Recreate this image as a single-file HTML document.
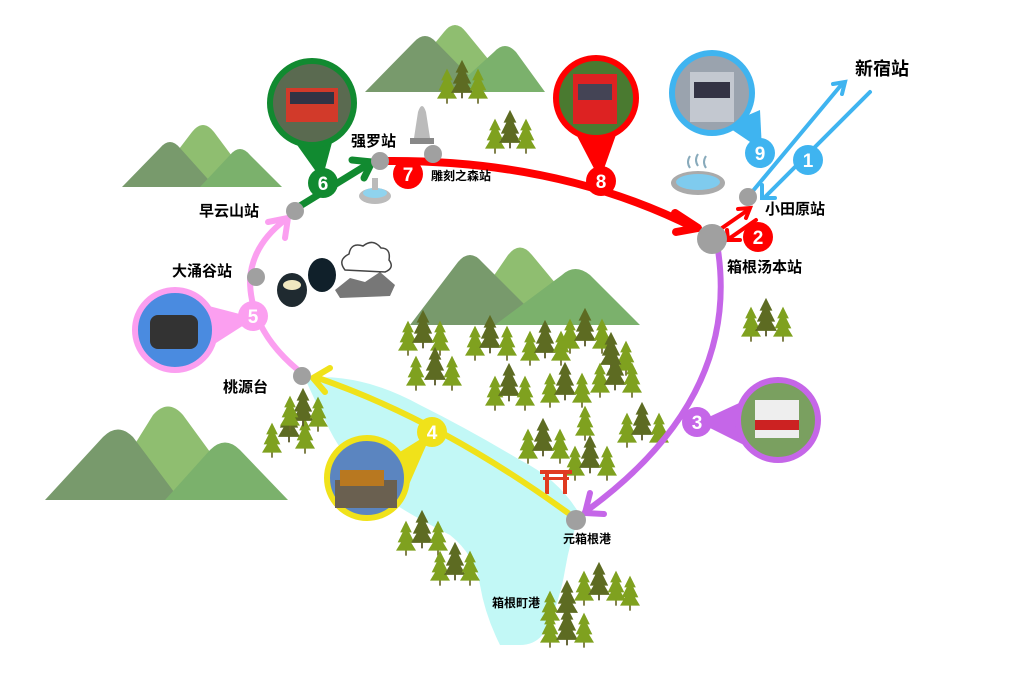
<!DOCTYPE html>
<html><head><meta charset="utf-8"><style>
html,body{margin:0;padding:0;background:#fff;}
svg{display:block;}
text{font-family:"Liberation Sans","Noto Sans CJK SC",sans-serif;font-weight:bold;}
</style></head><body>
<svg width="1024" height="683" viewBox="0 0 1024 683" xmlns="http://www.w3.org/2000/svg">
<defs>
<symbol id="tl" viewBox="0 0 24 44" overflow="visible">
<rect x="11" y="34" width="2" height="8" fill="#6b6b2a"/>
<polygon points="12,0 19,14 16,14 22,26 18,26 24,36 0,36 6,26 2,26 8,14 5,14" fill="#7fa11f"/>
</symbol>
<symbol id="td" viewBox="0 0 24 44" overflow="visible">
<rect x="11" y="34" width="2" height="8" fill="#5a5a2a"/>
<polygon points="12,0 19,14 16,14 22,26 18,26 24,36 0,36 6,26 2,26 8,14 5,14" fill="#5d6b22"/>
</symbol>
</defs>

<!-- mountains -->
<g>
<!-- top -->
<path d="M395,92 L444,32 Q455,18 466,32 L515,92 Z" fill="#8fbe70"/>
<path d="M365,92 L414,42 Q425,30 436,42 L485,92 Z" fill="#789a6c"/>
<path d="M450,92 L494,52 Q505,40 516,52 L545,92 Z" fill="#7bb16c"/>
<!-- left top -->
<path d="M150,187 L192,132 Q203,118 214,132 L255,187 Z" fill="#8fbe70"/>
<path d="M122,187 L160,148 Q170,136 180,148 L215,187 Z" fill="#789a6c"/>
<path d="M200,187 L230,155 Q240,143 250,155 L282,187 Z" fill="#7bb16c"/>
<!-- middle -->
<path d="M460,325 L508,255 Q520,240 532,255 L590,325 Z" fill="#8fbe70"/>
<path d="M410,325 L458,262 Q470,248 482,262 L545,325 Z" fill="#789a6c"/>
<path d="M495,325 L562,275 Q575,263 590,275 L640,325 Z" fill="#7bb16c"/>
<!-- bottom left -->
<path d="M100,500 L153,415 Q168,398 183,415 L245,500 Z" fill="#8fbe70"/>
<path d="M45,500 L103,437 Q118,422 133,437 L180,500 Z" fill="#789a6c"/>
<path d="M165,500 L210,450 Q225,435 240,450 L288,500 Z" fill="#7bb16c"/>
</g>

<!-- lake -->
<path d="M305,378 Q360,372 420,405 Q470,430 520,460 Q560,480 580,515 Q570,540 565,570 Q560,600 548,625 Q540,645 520,645 L500,645 Q485,615 480,585 Q475,555 450,535 Q400,510 375,490 Q340,455 325,420 Q312,395 305,378 Z" fill="#c2f8f6"/>

<!-- trees -->
<g>
<use href="#tl" x="437" y="68" width="20" height="38"/><use href="#td" x="451" y="58" width="22" height="44"/><use href="#tl" x="468" y="68" width="20" height="38"/>
<use href="#tl" x="485" y="118" width="20" height="38"/><use href="#td" x="499" y="108" width="22" height="44"/><use href="#tl" x="516" y="118" width="20" height="38"/>
<use href="#tl" x="741" y="306" width="20" height="38"/><use href="#td" x="755" y="296" width="22" height="44"/><use href="#tl" x="773" y="306" width="20" height="38"/>
<use href="#tl" x="398" y="320" width="20" height="38"/><use href="#td" x="412" y="308" width="22" height="44"/><use href="#tl" x="430" y="320" width="20" height="38"/>
<use href="#td" x="424" y="345" width="22" height="44"/><use href="#tl" x="406" y="355" width="20" height="38"/><use href="#tl" x="442" y="355" width="20" height="38"/>
<use href="#tl" x="465" y="325" width="20" height="38"/><use href="#td" x="479" y="313" width="22" height="44"/><use href="#tl" x="497" y="325" width="20" height="38"/>
<use href="#tl" x="485" y="375" width="20" height="38"/><use href="#td" x="498" y="361" width="22" height="44"/><use href="#tl" x="515" y="375" width="20" height="38"/>
<use href="#tl" x="520" y="330" width="20" height="38"/><use href="#td" x="534" y="318" width="22" height="44"/><use href="#tl" x="551" y="330" width="20" height="38"/>
<use href="#tl" x="560" y="318" width="20" height="38"/><use href="#td" x="574" y="306" width="22" height="44"/><use href="#tl" x="592" y="318" width="20" height="38"/>
<use href="#td" x="600" y="330" width="22" height="44"/><use href="#tl" x="616" y="340" width="20" height="38"/>
<use href="#tl" x="540" y="372" width="20" height="38"/><use href="#td" x="554" y="360" width="22" height="44"/><use href="#tl" x="572" y="372" width="20" height="38"/>
<use href="#tl" x="590" y="362" width="20" height="38"/><use href="#td" x="604" y="350" width="22" height="44"/><use href="#tl" x="622" y="362" width="20" height="38"/>
<use href="#tl" x="518" y="428" width="20" height="38"/><use href="#td" x="532" y="416" width="22" height="44"/><use href="#tl" x="550" y="428" width="20" height="38"/>
<use href="#tl" x="565" y="445" width="20" height="38"/><use href="#td" x="579" y="433" width="22" height="44"/><use href="#tl" x="597" y="445" width="20" height="38"/>
<use href="#tl" x="617" y="412" width="20" height="38"/><use href="#td" x="631" y="400" width="22" height="44"/><use href="#tl" x="649" y="412" width="20" height="38"/>
<use href="#tl" x="575" y="405" width="20" height="38"/>
<use href="#tl" x="262" y="422" width="20" height="38"/><use href="#td" x="278" y="402" width="22" height="44"/><use href="#tl" x="295" y="418" width="20" height="38"/>
<use href="#td" x="292" y="386" width="22" height="44"/><use href="#tl" x="308" y="396" width="20" height="38"/><use href="#tl" x="280" y="395" width="20" height="38"/>
<use href="#tl" x="396" y="520" width="20" height="38"/><use href="#td" x="411" y="508" width="22" height="44"/><use href="#tl" x="428" y="520" width="20" height="38"/>
<use href="#tl" x="430" y="550" width="20" height="38"/><use href="#td" x="444" y="540" width="22" height="44"/><use href="#tl" x="460" y="550" width="20" height="38"/>
<use href="#tl" x="540" y="590" width="20" height="38"/><use href="#td" x="556" y="578" width="22" height="44"/><use href="#tl" x="574" y="570" width="20" height="38"/>
<use href="#td" x="588" y="560" width="22" height="44"/><use href="#tl" x="606" y="570" width="20" height="38"/><use href="#tl" x="620" y="575" width="20" height="38"/>
<use href="#tl" x="540" y="612" width="20" height="38"/><use href="#td" x="556" y="605" width="22" height="44"/><use href="#tl" x="574" y="612" width="20" height="38"/>
</g>

<!-- torii -->
<g fill="#e03a20"><rect x="540" y="470" width="32" height="4"/><rect x="543" y="477" width="26" height="3"/><rect x="545" y="470" width="4" height="24"/><rect x="563" y="470" width="4" height="24"/></g>

<!-- onsen -->
<ellipse cx="698" cy="183" rx="27" ry="12" fill="#aaa"/><ellipse cx="698" cy="182" rx="22" ry="8" fill="#7fcbee"/>
<path d="M690,168 q-4,-6 0,-12 M698,166 q-4,-6 0,-12 M706,168 q-4,-6 0,-12" stroke="#8ab" stroke-width="2" fill="none"/>

<!-- statue & fountain -->
<rect x="410" y="138" width="24" height="6" fill="#888"/><path d="M414,138 L418,112 Q422,100 426,112 L430,138 Z" fill="#bbb"/>
<ellipse cx="375" cy="196" rx="16" ry="8" fill="#bbb"/><ellipse cx="375" cy="193" rx="12" ry="5" fill="#8fd3ee"/><rect x="372" y="178" width="6" height="12" fill="#bbb"/>

<!-- eggs & rocks -->
<ellipse cx="292" cy="290" rx="15" ry="17" fill="#1f2a30"/><ellipse cx="292" cy="285" rx="9" ry="5" fill="#f0e8c0"/>
<ellipse cx="322" cy="275" rx="14" ry="17" fill="#10202a"/>
<path d="M335,290 L350,278 L365,282 L380,272 L395,285 L390,296 L340,298 Z" fill="#777"/>
<path d="M345,270 q-8,-10 4,-16 q2,-12 14,-8 q10,-8 18,2 q10,0 8,12 q6,8 -4,12 Z" fill="#fff" stroke="#444" stroke-width="1.5"/>

<!-- routes -->
<g fill="none" stroke-linecap="round">
<path d="M752,192 L842,84" stroke="#3fb4f0" stroke-width="4"/>
<path d="M833,84 L845,82 L842,94" stroke="#3fb4f0" stroke-width="4"/>
<path d="M870,92 L766,196" stroke="#3fb4f0" stroke-width="4"/>
<path d="M762,185 L762,198 L775,198" stroke="#3fb4f0" stroke-width="4"/>
<path d="M722,228 L748,210" stroke="#f00" stroke-width="4"/>
<path d="M738,209 L750,208 L746,218" stroke="#f00" stroke-width="4"/>
<path d="M756,220 L730,238" stroke="#f00" stroke-width="4"/>
<path d="M727,230 L728,240 L740,240" stroke="#f00" stroke-width="4"/>
<path d="M388,161 Q560,160 695,228" stroke="#f00" stroke-width="8"/>
<path d="M675,213 L698,228 L676,232" stroke="#f00" stroke-width="8" stroke-linejoin="round"/>
<path d="M718,250 Q740,400 585,512" stroke="#c566e8" stroke-width="6"/>
<path d="M590,493 L585,513 L604,514" stroke="#c566e8" stroke-width="6" stroke-linejoin="round"/>
<path d="M568,513 Q440,420 318,378" stroke="#f0e21a" stroke-width="6"/>
<path d="M325,392 L313,378 L330,368" stroke="#f0e21a" stroke-width="6" stroke-linejoin="round"/>
<path d="M298,370 Q250,330 250,280 Q252,245 285,220" stroke="#fb9ff0" stroke-width="6"/>
<path d="M268,222 L288,218 L285,238" stroke="#fb9ff0" stroke-width="6" stroke-linejoin="round"/>
<path d="M300,206 L370,163" stroke="#118a30" stroke-width="7"/>
<path d="M352,160 L372,162 L364,178" stroke="#118a30" stroke-width="7" stroke-linejoin="round"/>
</g>

<!-- pins -->
<g>
<polygon points="290,135 334,135 322,180" fill="#118a30"/>
<circle cx="312" cy="103" r="42" fill="#5a6a50" stroke="#118a30" stroke-width="6"/>
<rect x="286" y="88" width="52" height="34" fill="#d23a2a"/><rect x="290" y="92" width="44" height="12" fill="#334"/>
<polygon points="575,132 617,132 600,180" fill="#f00"/>
<circle cx="596" cy="98" r="40" fill="#4a7a30" stroke="#f00" stroke-width="6"/>
<rect x="573" y="74" width="44" height="50" fill="#d22"/><rect x="578" y="84" width="34" height="16" fill="#445"/>
<polygon points="725,125 760,110 762,150" fill="#3fb4f0"/>
<circle cx="712" cy="93" r="40" fill="#9aa3ae" stroke="#3fb4f0" stroke-width="6"/>
<rect x="690" y="72" width="44" height="50" fill="#c3c8d0"/><rect x="694" y="82" width="36" height="16" fill="#334"/>
<polygon points="205,305 255,318 205,350" fill="#fb9ff0"/>
<circle cx="175" cy="330" r="40" fill="#4a8be0" stroke="#fb9ff0" stroke-width="6"/>
<rect x="150" y="315" width="48" height="34" rx="8" fill="#333"/>
<polygon points="395,455 432,432 400,505" fill="#f0e21a"/>
<circle cx="367" cy="478" r="40" fill="#5b85c0" stroke="#f0e21a" stroke-width="6"/>
<rect x="335" y="480" width="62" height="28" fill="#6a6050"/><rect x="340" y="470" width="44" height="16" fill="#b87820"/>
<polygon points="750,398 698,422 750,448" fill="#c566e8"/>
<circle cx="778" cy="420" r="40" fill="#7aa060" stroke="#c566e8" stroke-width="6"/>
<rect x="755" y="400" width="44" height="38" fill="#eee"/><rect x="755" y="420" width="44" height="10" fill="#c22"/>
</g>

<!-- number circles -->
<g fill="#fff" font-size="19" text-anchor="middle">
<circle cx="808" cy="160" r="15" fill="#3fb4f0"/><text x="808" y="167">1</text>
<circle cx="760" cy="153" r="15" fill="#3fb4f0"/><text x="760" y="160">9</text>
<circle cx="758" cy="237" r="15" fill="#f00"/><text x="758" y="244">2</text>
<circle cx="697" cy="422" r="15" fill="#c566e8"/><text x="697" y="429">3</text>
<circle cx="432" cy="432" r="15" fill="#f0e21a"/><text x="432" y="439">4</text>
<circle cx="253" cy="316" r="15" fill="#fb9ff0"/><text x="253" y="323">5</text>
<circle cx="323" cy="183" r="15" fill="#118a30"/><text x="323" y="190">6</text>
<circle cx="408" cy="174" r="15" fill="#f00"/><text x="408" y="181">7</text>
<circle cx="601" cy="181" r="15" fill="#f00"/><text x="601" y="188">8</text>
</g>

<!-- station dots -->
<g fill="#a0a0a0">
<circle cx="380" cy="161" r="9"/><circle cx="433" cy="154" r="9"/><circle cx="295" cy="211" r="9"/>
<circle cx="256" cy="277" r="9"/><circle cx="302" cy="376" r="9"/><circle cx="576" cy="520" r="10"/>
<circle cx="748" cy="197" r="9"/><circle cx="712" cy="239" r="15"/>
</g>

<!-- labels -->
<g fill="#000">
<text x="855" y="75" font-size="18">新宿站</text>
<text x="765" y="214" font-size="15">小田原站</text>
<text x="727" y="272" font-size="15">箱根汤本站</text>
<text x="351" y="146" font-size="15">强罗站</text>
<text x="431" y="180" font-size="12">雕刻之森站</text>
<text x="199" y="216" font-size="15">早云山站</text>
<text x="172" y="276" font-size="15">大涌谷站</text>
<text x="223" y="392" font-size="15">桃源台</text>
<text x="563" y="543" font-size="12">元箱根港</text>
<text x="492" y="607" font-size="12">箱根町港</text>
</g>
</svg>
</body></html>
